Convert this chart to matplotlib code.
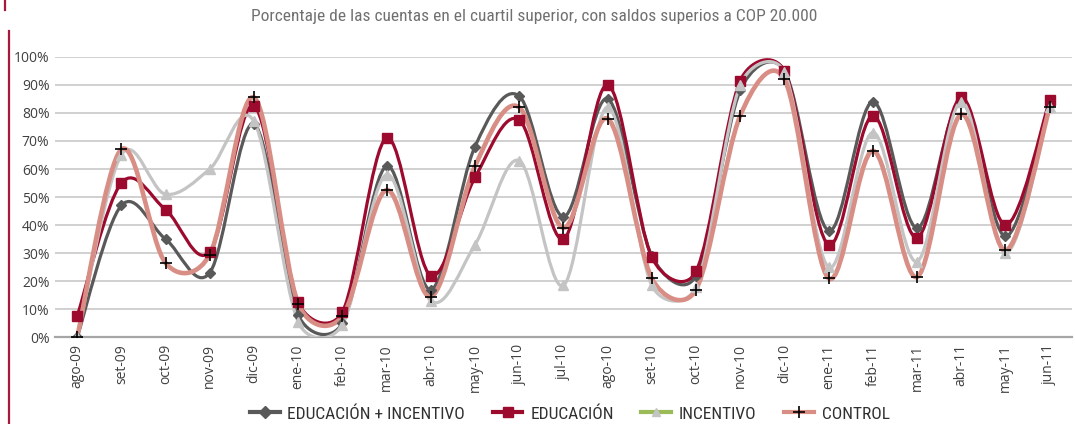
import numpy as np
import matplotlib
matplotlib.use("Agg")
import matplotlib.pyplot as plt
from matplotlib.lines import Line2D
from matplotlib.path import Path
from matplotlib.patches import PathPatch
from matplotlib import font_manager

months = ["ago-09", "set-09", "oct-09", "nov-09", "dic-09", "ene-10", "feb-10",
          "mar-10", "abr-10", "may-10", "jun-10", "jul-10", "ago-10", "set-10",
          "oct-10", "nov-10", "dic-10", "ene-11", "feb-11", "mar-11", "abr-11",
          "may-11", "jun-11"]

edu_inc = [0, 47, 35, 23, 76, 8, 5, 61, 17, 68, 86, 43, 85, 29, 22, 88, 95,
           38, 84, 39, 84, 36, 83]
edu = [7.5, 55, 45.5, 30.5, 82.5, 12.5, 9, 71, 22, 57, 77.5, 35, 90, 28.5,
       23.5, 91.5, 95, 33, 79, 35.5, 85.5, 40, 84.5]
inc = [0, 65, 51, 60, 77, 5.5, 4.5, 58, 13, 33, 63, 18.5, 82, 18.5, 18, 90,
       94.5, 25, 73, 27, 84, 30, 82]
control = [0, 67, 26.5, 29.5, 85.5, 12, 7.5, 52.5, 14.5, 61, 82, 39, 78, 21,
           17, 79, 92, 21, 66.5, 21.5, 79.5, 31, 82]

series_names = ["EDUCACIÓN + INCENTIVO", "EDUCACIÓN", "INCENTIVO", "CONTROL"]

title = "Porcentaje de las cuentas en el cuartil superior, con saldos superios a COP 20.000"

c_dark = "#595959"
c_red = "#9c0a2e"
c_light = "#c4c4c4"
c_salmon = "#d88e85"
c_green = "#9bbb59"

# pick a narrow face if one is installed, else Roboto
installed = {f.name for f in font_manager.fontManager.ttflist}
narrow = "Roboto"
for name in ["Roboto Condensed", "Liberation Sans Narrow", "Open Sans Condensed",
             "DejaVu Sans Condensed"]:
    if name in installed:
        narrow = name
        break
title_size = 12.5 if narrow != "Roboto" else 11
leg_size = 12.5 if narrow != "Roboto" else 11


def smooth_path(x, y, sx=44.2, sy=281.0):
    # Excel style smoothed line: Bezier pieces, handle length capped at half
    # the segment (worked out in pixel space, then scaled back)
    pts = np.column_stack([np.asarray(x) * sx, np.asarray(y) * sy]).astype(float)
    n = len(pts)
    verts = [pts[0]]
    codes = [Path.MOVETO]
    for i in range(n - 1):
        p0 = pts[i - 1] if i > 0 else pts[i]
        p1 = pts[i]
        p2 = pts[i + 1]
        p3 = pts[i + 2] if i + 2 < n else pts[i + 1]
        d12 = np.hypot(*(p2 - p1))
        d02 = np.hypot(*(p2 - p0))
        d13 = np.hypot(*(p3 - p1))
        f1 = 1 / 6 if d02 / 6 < d12 / 2 else d12 / (2 * d02)
        f2 = 1 / 6 if d13 / 6 < d12 / 2 else d12 / (2 * d13)
        verts += [p1 + f1 * (p2 - p0), p2 - f2 * (p3 - p1), p2]
        codes += [Path.CURVE4] * 3
    verts = np.array(verts) / [sx, sy]
    return Path(verts, codes)


fig = plt.figure(figsize=(10.75, 4.24), dpi=100)
ax = fig.add_axes([0.0512, 0.2045, 0.9458, 0.6615])

x = np.arange(len(months))
style = [
    (edu_inc, c_dark, 2.3, "D", 5.5, c_dark, 1),
    (edu, c_red, 2.3, "s", 7, c_red, 1),
    (inc, c_light, 2.3, "^", 6.5, c_light, 1),
    (control, c_salmon, 3.3, "+", 8, "black", 1.2),
]
for vals, col, lw, mk, ms, mcol, mew in style:
    yv = np.array(vals) / 100
    ax.add_patch(PathPatch(smooth_path(x, yv), facecolor="none", edgecolor=col,
                           lw=lw, capstyle="round", joinstyle="round", zorder=3))
    ax.plot(x, yv, ls="none", marker=mk, ms=ms, color=mcol, mec=mcol, mew=mew,
            zorder=4)

ax.set_xlim(-0.5, len(months) - 0.5)
ax.set_ylim(0, 1)
ax.set_yticks(np.arange(0, 1.01, 0.1))
ax.set_yticklabels([f"{int(v)}%" for v in np.arange(0, 101, 10)],
                   fontfamily="Open Sans", fontsize=10, color="#404040")
ax.set_xticks(x)
ax.set_xticklabels(months, rotation=90, fontfamily="Open Sans", fontsize=10,
                   color="#404040")
ax.tick_params(axis="both", length=0)
ax.tick_params(axis="y", pad=4)
ax.tick_params(axis="x", pad=5)
ax.grid(axis="y", color="#c8c8c8", lw=1.2)
ax.set_axisbelow(True)
for s in ["top", "right", "left"]:
    ax.spines[s].set_visible(False)
ax.spines["bottom"].set_color("#a6a6a6")
ax.spines["bottom"].set_linewidth(1.6)
ax.spines["bottom"].set_zorder(2)

fig.text(0.497, 0.962, title, ha="center", va="center", fontsize=title_size,
         color="#707070", family=narrow)

# left border line
fig.add_artist(Line2D([0.0085, 0.0085], [0.0, 0.927], color="#a6193c", lw=1.6))
fig.add_artist(Line2D([0.0045, 0.0045], [0.977, 1.0], color="#a6193c", lw=1.6))

handles = [
    Line2D([], [], color=c_dark, lw=3, marker="D", ms=6, mfc=c_dark, mec=c_dark),
    Line2D([], [], color=c_red, lw=3, marker="s", ms=7, mfc=c_red, mec=c_red),
    Line2D([], [], color=c_green, lw=3, marker="^", ms=6, mfc=c_light, mec=c_light),
    Line2D([], [], color=c_salmon, lw=3, marker="+", ms=8, mec="black", mew=1.2),
]
fig.legend(handles, series_names, loc="center", bbox_to_anchor=(0.53, 0.024),
           ncol=4, frameon=False, handlelength=1.7, handletextpad=0.45,
           columnspacing=1.6, prop={"family": narrow, "size": leg_size},
           labelcolor="#303030")

fig.savefig("out.png", dpi=100)
